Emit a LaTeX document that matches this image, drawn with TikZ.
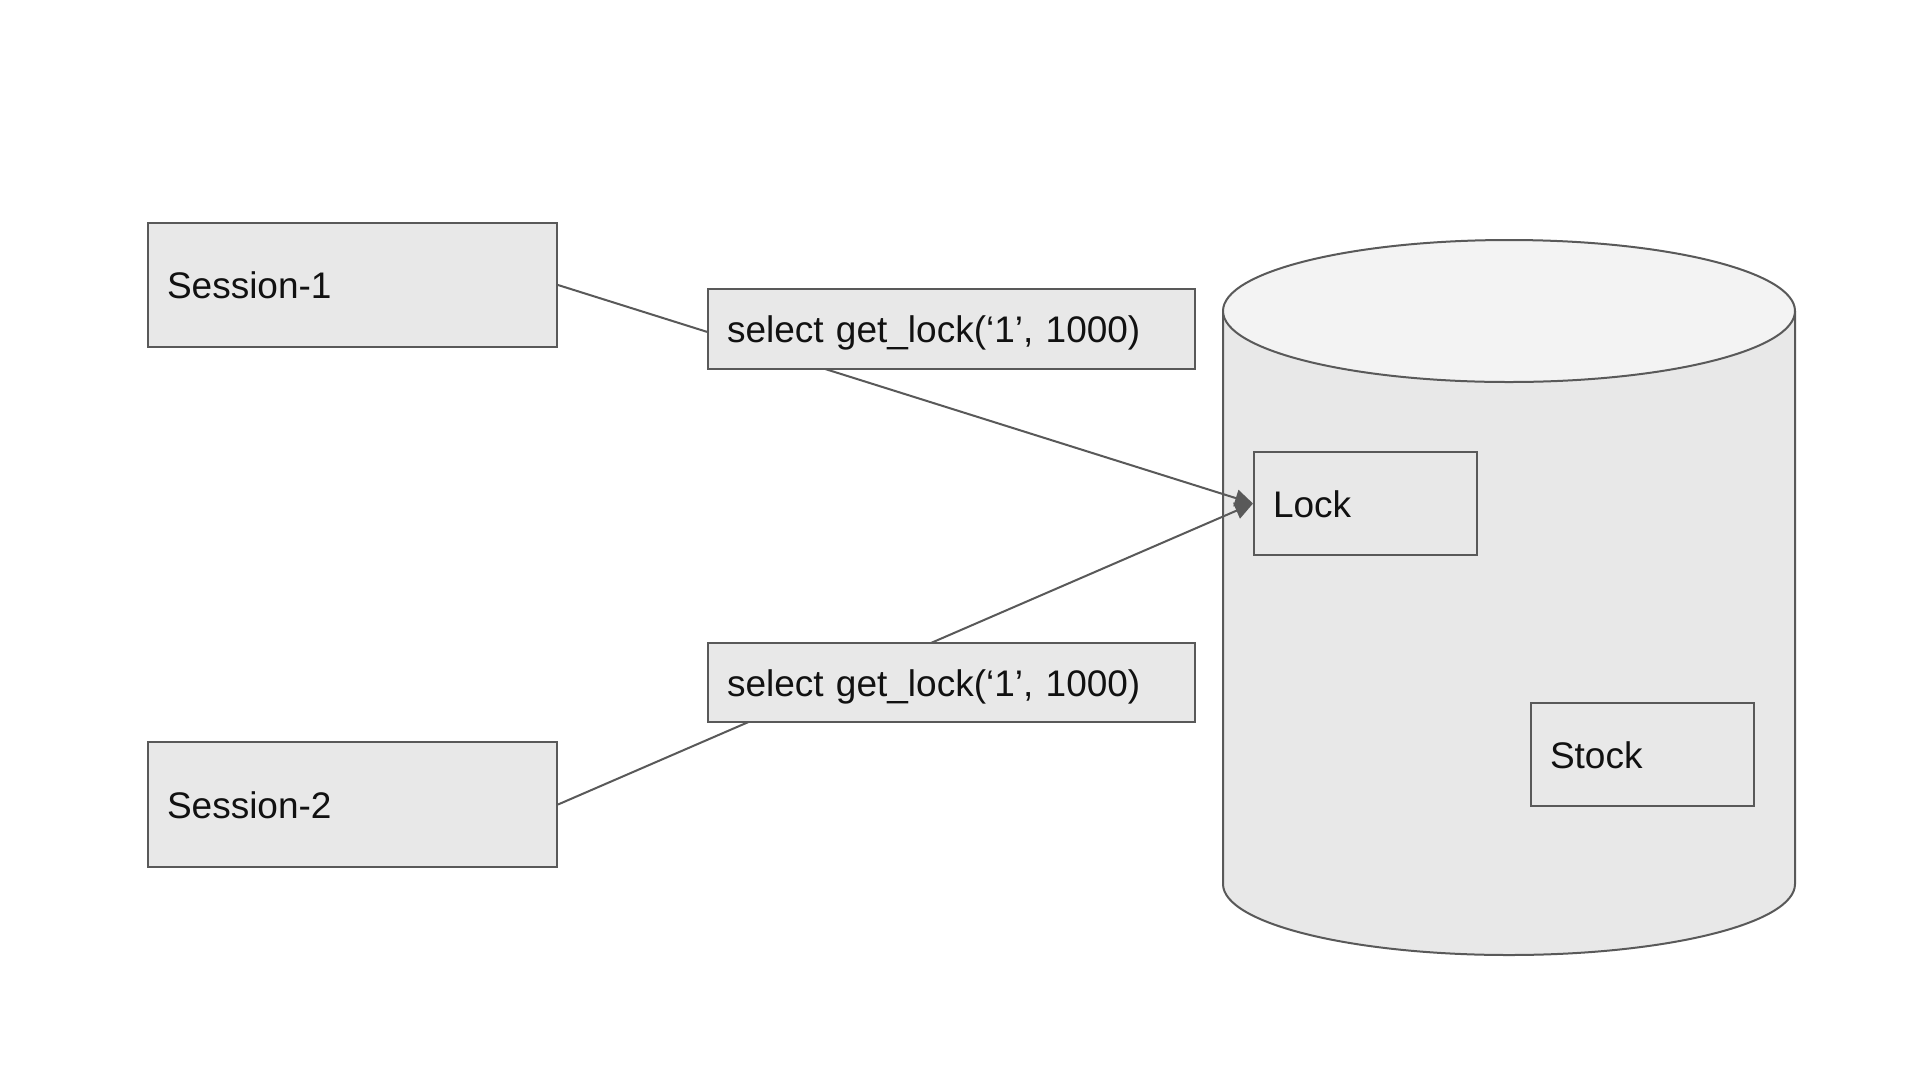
\documentclass[tikz,border=0pt]{standalone}
\usepackage{fontspec}
\setmainfont{Liberation Sans}
\usetikzlibrary{arrows.meta}
\definecolor{boxfill}{HTML}{E8E8E8}
\definecolor{topfill}{HTML}{F3F3F3}
\definecolor{edge}{HTML}{595959}
\definecolor{txt}{HTML}{111111}
\pgfdeclarelayer{bg}
\pgfdeclarelayer{links}
\pgfsetlayers{bg,links,main}
\begin{document}
\begin{tikzpicture}[x=1pt,y=1pt,
  box/.style={draw=edge,line width=2pt,fill=boxfill,inner xsep=19pt,inner ysep=0pt,
    align=left,text=txt,font=\fontsize{37}{44}\selectfont,text height=27pt,text depth=0pt},
  link/.style={draw=edge,line width=2pt},
  tip/.style={-{Triangle[length=18pt,width=17pt]}}]
\useasboundingbox (0,0) rectangle (1920,-1080);

% nodes
\node[box,text width=371pt,minimum height=124pt] (s1) at (352.5,-285) {Session-1};
\node[box,text width=371pt,minimum height=125pt] (s2) at (352.5,-804.5) {Session-2};
\node[box,text width=449pt,minimum height=80pt] (q1) at (951.5,-329) {select get\_lock(‘1’, 1000)};
\node[box,text width=449pt,minimum height=79pt] (q2) at (951.5,-682.5) {select get\_lock(‘1’, 1000)};
\node[box,text width=185pt,minimum height=103pt] (lock) at (1365.5,-503.5) {Lock};
\node[box,text width=185pt,minimum height=103pt] (stock) at (1642.5,-754.5) {Stock};

% background and database cylinder
\begin{pgfonlayer}{bg}
  \fill[white] (0,0) rectangle (1920,-1080);
  \fill[boxfill] (1223,-311) -- (1223,-884)
    arc[start angle=180,end angle=360,x radius=286pt,y radius=71pt] -- (1795,-311) -- cycle;
  \draw[edge,line width=2pt] (1223,-311) -- (1223,-884)
    arc[start angle=180,end angle=360,x radius=286pt,y radius=71pt] -- (1795,-311);
  \draw[edge,line width=2pt,fill=topfill] (1509,-311) ellipse[x radius=286pt,y radius=71pt];
\end{pgfonlayer}

% connectors
\begin{pgfonlayer}{links}
  \draw[link,tip,edge] (s1.east) -- (lock.west);
  \draw[link,tip,edge] (s2.east) -- (lock.west);
\end{pgfonlayer}
\end{tikzpicture}
\end{document}
